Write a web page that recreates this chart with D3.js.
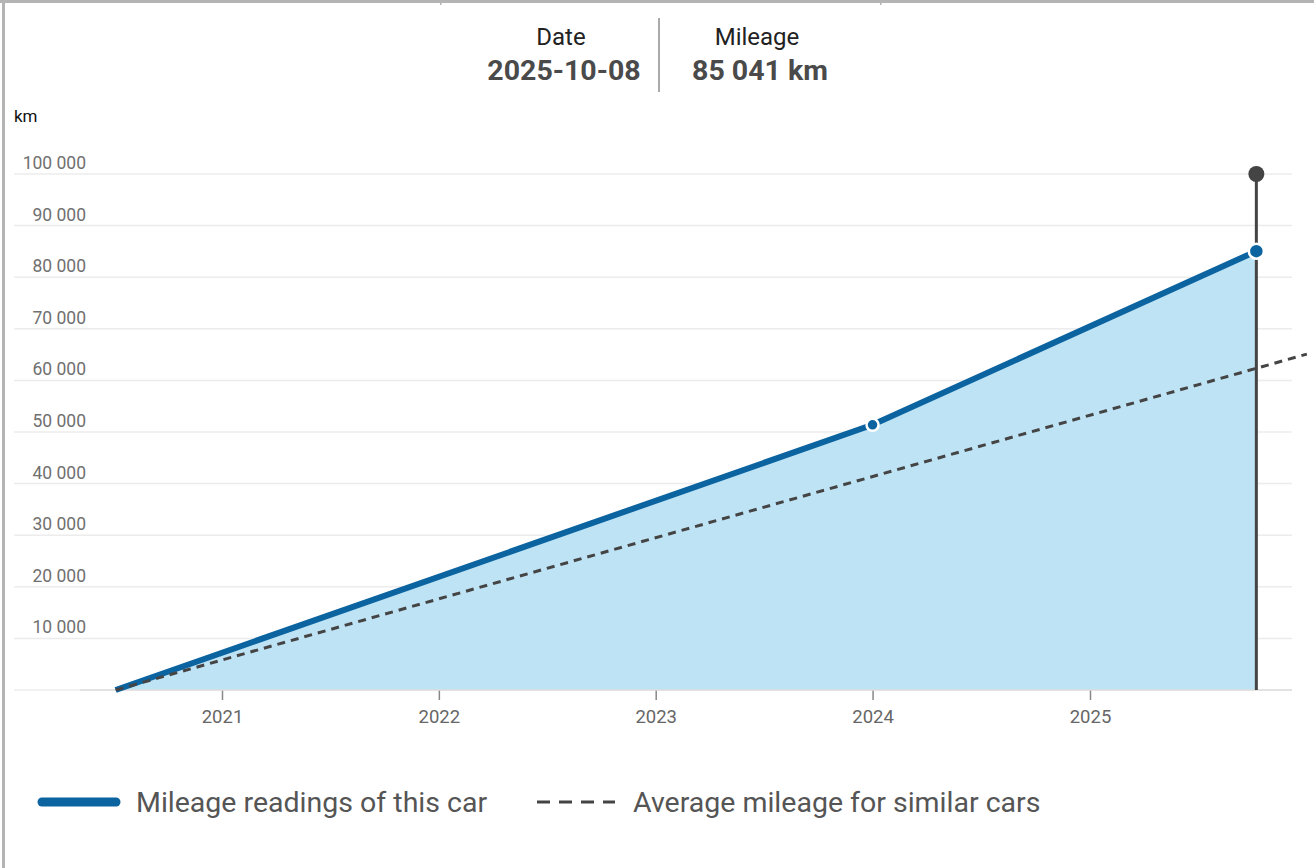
<!DOCTYPE html>
<html>
<head>
<meta charset="utf-8">
<script src="https://cdn.jsdelivr.net/npm/d3@7"></script>
<style>
  body { margin: 0; background: #fff; font-family: Roboto, "Noto Sans", sans-serif; }
</style>
</head>
<body>
<div id="chart"></div>
<script>
(function(){
    // readings of this car
    const readingDates = ['2020-07-06', '2024-01-01', '2025-10-08'];
    const readingKm = [0, 51400, 85041];

    // average for similar cars
    const avgDates = ['2020-07-06', '2026-01-01'];
    const avgKm = [0, 65100];

    const yTicks = [10000, 20000, 30000, 40000, 50000, 60000, 70000, 80000, 90000, 100000];
    const xTickYears = ['2021', '2022', '2023', '2024', '2025'];

    const selected = { date: '2025-10-08', km: 85041 };

    const parse = d3.timeParse('%Y-%m-%d');
    const readings = readingDates.map((d, i) => ({ date: parse(d), km: readingKm[i] }));
    const avg = avgDates.map((d, i) => ({ date: parse(d), km: avgKm[i] }));

    const fullWidth = 1314;
    const fullHeight = 868;

    const svg = d3.select('#chart')
        .append('svg')
            .attr('width', fullWidth)
            .attr('height', fullHeight)
            .style('display', 'block');

    // frame
    svg.append('rect').attr('x', 0).attr('y', 0).attr('width', fullWidth).attr('height', 3).attr('fill', '#b4b4b4');
    svg.append('rect').attr('x', 2).attr('y', 0).attr('width', 3).attr('height', fullHeight).attr('fill', '#b4b4b4');
    [440, 880].forEach(x => svg.append('rect').attr('x', x).attr('y', 0).attr('width', 1.5).attr('height', 5).attr('fill', '#b4b4b4'));

    // header
    const fmt = d3.formatLocale({ decimal: '.', thousands: '\u00a0', grouping: [3], currency: ['', ''] }).format(',d');
    const head = svg.append('g').attr('fill', '#4a4a4a');
    head.append('text').attr('x', 561).attr('y', 45).attr('text-anchor', 'middle')
        .style('font-size', '24px').attr('fill', '#222').text('Date');
    head.append('text').attr('x', 564).attr('y', 80).attr('text-anchor', 'middle')
        .style('font-size', '28.5px').style('font-weight', 'bold').text(selected.date);
    head.append('text').attr('x', 757).attr('y', 45).attr('text-anchor', 'middle')
        .style('font-size', '24px').attr('fill', '#222').text('Mileage');
    head.append('text').attr('x', 760).attr('y', 80).attr('text-anchor', 'middle')
        .style('font-size', '28.5px').style('font-weight', 'bold').text(fmt(selected.km) + ' km');
    svg.append('line').attr('x1', 659).attr('x2', 659).attr('y1', 18).attr('y2', 92)
        .attr('stroke', '#aaa').attr('stroke-width', 2);

    svg.append('text').attr('x', 14).attr('y', 122).style('font-size', '17px').attr('fill', '#111').text('km');

    const xScale = d3.scaleTime()
        .domain([parse('2021-01-01'), parse('2025-01-01')])
        .range([222, 1090]);

    const yScale = d3.scaleLinear()
        .domain([0, 100000])
        .range([690, 174]);

    // gridlines + y labels
    const grid = svg.append('g');
    grid.selectAll('line').data(yTicks).enter().append('line')
        .attr('x1', 14).attr('x2', 1292)
        .attr('y1', d => yScale(d)).attr('y2', d => yScale(d))
        .attr('stroke', '#ececec').attr('stroke-width', 1.5);
    grid.selectAll('text').data(yTicks).enter().append('text')
        .attr('x', 86).attr('y', d => yScale(d) - 5)
        .attr('text-anchor', 'end')
        .style('font-size', '17.5px').attr('fill', '#707070')
        .text(d => fmt(d));
    svg.append('line').attr('x1', 14).attr('x2', 1292).attr('y1', yScale(0)).attr('y2', yScale(0))
        .attr('stroke', '#ececec').attr('stroke-width', 1.5);

    // area
    const area = d3.area().x(d => xScale(d.date)).y0(yScale(0)).y1(d => yScale(d.km));
    svg.append('path').datum(readings).attr('d', area).attr('fill', '#bee3f5');

    // x axis
    const xAxis = d3.axisBottom(xScale)
        .tickValues(xTickYears.map(y => parse(y + '-01-01')))
        .tickFormat(d3.timeFormat('%Y'))
        .tickSize(10)
        .tickPadding(10);
    const gx = svg.append('g').attr('transform', `translate(0, ${yScale(0)})`).call(xAxis);
    gx.select('.domain').remove();
    gx.selectAll('line').attr('stroke', '#888').attr('stroke-width', 1.5);
    gx.selectAll('text').style('font-size', '18.5px').attr('fill', '#666').style('font-family', 'Roboto, sans-serif');
    svg.append('line').attr('x1', 80).attr('x2', 1292).attr('y1', yScale(0)).attr('y2', yScale(0))
        .attr('stroke', '#dcdcdc').attr('stroke-width', 1.5);

    const line = d3.line().x(d => xScale(d.date)).y(d => yScale(d.km));

    // selection marker
    const sx = xScale(parse(selected.date));
    svg.append('line').attr('x1', sx).attr('x2', sx).attr('y1', yScale(100000)).attr('y2', yScale(0))
        .attr('stroke', '#444').attr('stroke-width', 3);
    svg.append('circle').attr('cx', sx).attr('cy', yScale(100000)).attr('r', 8).attr('fill', '#444');

    svg.append('path').datum(readings).attr('d', line)
        .attr('fill', 'none').attr('stroke', '#0b64a0').attr('stroke-width', 6);

    svg.append('path').datum(avg).attr('d', line)
        .attr('fill', 'none').attr('stroke', '#444').attr('stroke-width', 3)
        .attr('stroke-dasharray', '8,6');

    svg.selectAll('circle.pt').data(readings.slice(1)).enter().append('circle')
        .attr('class', 'pt')
        .attr('cx', d => xScale(d.date)).attr('cy', d => yScale(d.km))
        .attr('r', (d, i) => i === readings.length - 2 ? 7.5 : 6)
        .attr('fill', '#0b64a0').attr('stroke', '#fff').attr('stroke-width', 2.5);

    // legend
    const lg = svg.append('g');
    lg.append('line').attr('x1', 42).attr('x2', 116).attr('y1', 802).attr('y2', 802)
        .attr('stroke', '#0b64a0').attr('stroke-width', 9).attr('stroke-linecap', 'round');
    lg.append('text').attr('x', 136).attr('y', 812).style('font-size', '28.5px').attr('fill', '#555')
        .text('Mileage readings of this car');
    lg.append('line').attr('x1', 537).attr('x2', 615).attr('y1', 802).attr('y2', 802)
        .attr('stroke', '#444').attr('stroke-width', 3).attr('stroke-dasharray', '13,9');
    lg.append('text').attr('x', 633).attr('y', 812).style('font-size', '28.5px').attr('fill', '#555')
        .text('Average mileage for similar cars');
}());
</script>
</body>
</html>
